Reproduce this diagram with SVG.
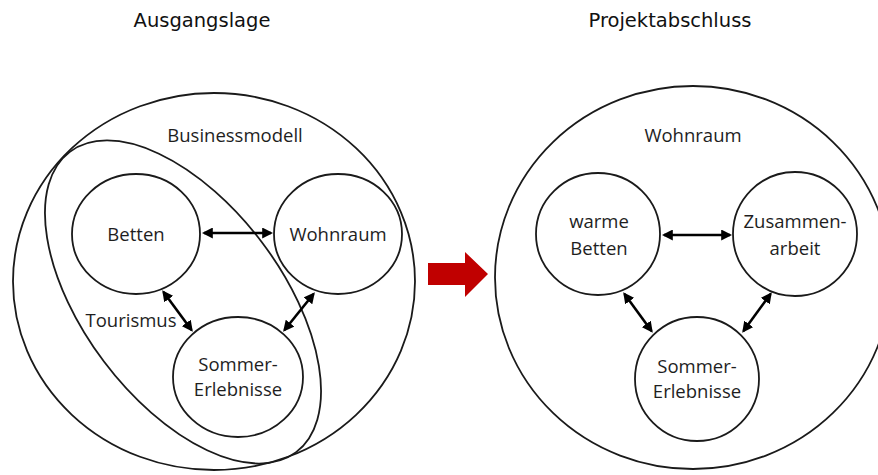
<svg xmlns="http://www.w3.org/2000/svg" width="878" height="475" viewBox="0 0 878 475">
<defs>
<style>
.ring{fill:none;stroke:#1a1a1a;stroke-width:1.8}
.node{fill:none;stroke:#1a1a1a;stroke-width:1.8}
.lbl{font-family:"Open Sans","Liberation Sans",sans-serif;font-size:18.5px;fill:#1e1e1e;text-anchor:middle}
.title{font-family:"DejaVu Sans","Liberation Sans",sans-serif;font-size:19.5px;fill:#111;text-anchor:middle}
.con{stroke:#000;stroke-width:2.6;fill:none;marker-start:url(#ah);marker-end:url(#ah)}
</style>
<marker id="ah" viewBox="0 0 10 10" refX="8" refY="5" markerWidth="11" markerHeight="11" markerUnits="userSpaceOnUse" orient="auto-start-reverse">
<path d="M0,0 L10,5 L0,10 z" fill="#000"/>
</marker>
</defs>
<rect width="878" height="475" fill="#fff"/>
<text class="title" x="202" y="27">Ausgangslage</text>
<text class="title" x="670" y="27">Projektabschluss</text>
<g id="businessmodell">
<ellipse class="ring" cx="214" cy="281.5" rx="201" ry="188.5"/>
<text class="lbl" x="235" y="142">Businessmodell</text>
</g>
<g id="tourismus">
<ellipse class="ring" cx="0" cy="0" rx="188" ry="99" transform="translate(183 302) rotate(53)"/>
<text class="lbl" x="131" y="327">Tourismus</text>
</g>
<g id="betten">
<ellipse class="node" cx="136" cy="234" rx="64" ry="60"/>
<text class="lbl" x="136" y="241">Betten</text>
</g>
<g id="wohnraum-links">
<ellipse class="node" cx="338" cy="234" rx="64" ry="60"/>
<text class="lbl" x="338" y="241">Wohnraum</text>
</g>
<g id="sommer-links">
<ellipse class="node" cx="238" cy="377" rx="65" ry="60"/>
<text class="lbl" x="238" y="371">Sommer-</text>
<text class="lbl" x="238" y="396">Erlebnisse</text>
</g>
<g id="pfeil">
<polygon points="428,263 465,263 465,252 488,274 465,297 465,285 428,285" fill="#c00000"/>
</g>
<g id="wohnraum-rechts">
<ellipse class="ring" cx="693" cy="277.5" rx="198" ry="191.5"/>
<text class="lbl" x="693" y="142">Wohnraum</text>
</g>
<g id="warme-betten">
<ellipse class="node" cx="598" cy="234" rx="62" ry="61"/>
<text class="lbl" x="599" y="228">warme</text>
<text class="lbl" x="599" y="255">Betten</text>
</g>
<g id="zusammenarbeit">
<ellipse class="node" cx="795" cy="234" rx="62" ry="62"/>
<text class="lbl" x="795" y="228">Zusammen-</text>
<text class="lbl" x="795" y="255">arbeit</text>
</g>
<g id="sommer-rechts">
<ellipse class="node" cx="697" cy="379" rx="62" ry="62"/>
<text class="lbl" x="697" y="373">Sommer-</text>
<text class="lbl" x="697" y="398">Erlebnisse</text>
</g>
<g id="connectors">
<line class="con" x1="204" y1="233" x2="271" y2="233"/>
<line class="con" x1="163.5" y1="292" x2="191.5" y2="330"/>
<line class="con" x1="313.5" y1="294" x2="284.5" y2="330"/>
<line class="con" x1="664" y1="235" x2="730" y2="235"/>
<line class="con" x1="624.5" y1="294" x2="651.5" y2="331"/>
<line class="con" x1="770.5" y1="294" x2="743.5" y2="331"/>
</g>
</svg>
